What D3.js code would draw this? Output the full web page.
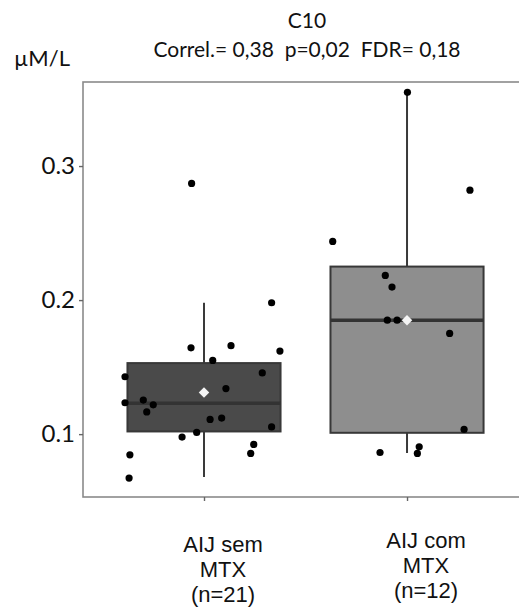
<!DOCTYPE html>
<html>
<head>
<meta charset="utf-8">
<script src="https://cdn.jsdelivr.net/npm/d3@7"></script>
<style>
  body { margin: 0; background: #fff; }
  svg { display: block; }
</style>
</head>
<body>
<svg id="chart"></svg>
<script>
(function(){

  // groups
  let groups = ['AIJ sem MTX', 'AIJ com MTX'];
  let groupLabels = [['AIJ sem', 'MTX', '(n=21)'], ['AIJ com', 'MTX', '(n=12)']];
  let groupFill = ['#4a4a4a', '#8e8e8e'];

  // box stats (q1, median, q3, whisker ends, mean)
  let q1 = [0.102, 0.101];
  let median = [0.123, 0.185];
  let q3 = [0.153, 0.225];
  let whiskerLo = [0.068, 0.086];
  let whiskerHi = [0.198, 0.355];
  let mean = [0.131, 0.185];

  // jittered points: group position (1 or 2 plus jitter) and value
  let ptsX1 = [1.333, 0.936, 1.133, 1.374, 1.043, 1.287, 0.611, 1.108, 0.611, 0.701, 0.750,
               0.718, 1.030, 1.087, 1.333, 0.964, 0.892, 1.245, 1.230, 0.635, 0.631, 0.939];
  let ptsY1 = [0.198, 0.1644, 0.166, 0.162, 0.155, 0.1457, 0.1428, 0.134, 0.1234, 0.1254, 0.1219,
               0.1166, 0.111, 0.112, 0.1054, 0.1013, 0.0978, 0.0923, 0.0856, 0.0846, 0.0672, 0.287];
  let ptsX2 = [2.002, 2.310, 1.634, 1.893, 1.926, 1.903, 1.951, 2.210, 2.281, 2.060, 1.867, 2.051];
  let ptsY2 = [0.355, 0.282, 0.2438, 0.2184, 0.2097, 0.185, 0.185, 0.1751, 0.1035, 0.0905, 0.0863, 0.0856];

  let yTicks = [0.1, 0.2, 0.3];

  let width = 519, height = 613;
  let left = 83, top = 82, bottom = 497, right = 540;

  let svg = d3.select('svg#chart')
      .attr('width', width)
      .attr('height', height);

  let x = d3.scaleLinear().domain([0.404, 2.655]).range([left, right]);
  let y = d3.scaleLinear().domain([0.0531, 0.3627]).range([bottom, top]);

  let calibri = 'Lato, "Open Sans", sans-serif';
  let arial = '"Liberation Sans", Arial, sans-serif';

  // titles
  svg.append('text')
      .attr('x', 307).attr('y', 28)
      .attr('text-anchor', 'middle')
      .attr('font-family', calibri).attr('font-size', 21)
      .attr('fill', '#111')
      .text('C10');
  svg.append('text')
      .attr('x', 307).attr('y', 57)
      .attr('text-anchor', 'middle')
      .attr('font-family', calibri).attr('font-size', 21)
      .attr('fill', '#111')
      .attr('xml:space', 'preserve')
      .style('white-space', 'pre')
      .text('Correl.= 0,38  p=0,02  FDR= 0,18');
  svg.append('text')
      .attr('x', 14).attr('y', 66)
      .attr('font-family', calibri).attr('font-size', 22)
      .attr('fill', '#111')
      .text('\u00b5M/L');

  // panel border
  svg.append('rect')
      .attr('x', left).attr('y', top)
      .attr('width', right - left).attr('height', bottom - top)
      .attr('fill', 'none')
      .attr('stroke', '#8a8a8a')
      .attr('stroke-width', 1.6);

  // y axis
  let yAxis = svg.append('g')
      .attr('transform', `translate(${left},0)`)
      .call(d3.axisLeft(y).tickValues(yTicks).tickSize(4).tickPadding(4).tickFormat(d3.format('.1f')));
  yAxis.select('.domain').remove();
  yAxis.selectAll('line').attr('stroke', '#666').attr('stroke-width', 1.4);
  yAxis.selectAll('text')
      .attr('font-family', calibri).attr('font-size', 24).attr('fill', '#111');

  // x axis ticks
  let xAxis = svg.append('g')
      .attr('transform', `translate(0,${bottom})`)
      .call(d3.axisBottom(x).tickValues([1, 2]).tickSize(4).tickFormat(''));
  xAxis.select('.domain').remove();
  xAxis.selectAll('line').attr('stroke', '#666').attr('stroke-width', 1.4);

  // x labels (offset to the right of ticks, as in the picture)
  groupLabels.forEach((lines, i) => {
    let t = svg.append('text')
        .attr('text-anchor', 'middle')
        .attr('font-family', arial).attr('font-size', 22)
        .attr('fill', '#111');
    lines.forEach((s, j) => {
      t.append('tspan')
          .attr('x', x(i + 1) + 19)
          .attr('y', (i === 0 ? 552 : 548) + j * 25)
          .text(s);
    });
  });

  let g = svg.append('g');
  let halfW = 0.377;

  groups.forEach((grp, i) => {
    let cx = i + 1;
    // whiskers
    g.append('line')
        .attr('x1', x(cx)).attr('x2', x(cx))
        .attr('y1', y(whiskerLo[i])).attr('y2', y(whiskerHi[i]))
        .attr('stroke', '#3a3a3a').attr('stroke-width', 2);
    // box
    g.append('rect')
        .attr('x', x(cx - halfW)).attr('width', x(cx + halfW) - x(cx - halfW))
        .attr('y', y(q3[i])).attr('height', y(q1[i]) - y(q3[i]))
        .attr('fill', groupFill[i])
        .attr('stroke', '#383838').attr('stroke-width', 2);
    // median
    g.append('line')
        .attr('x1', x(cx - halfW)).attr('x2', x(cx + halfW))
        .attr('y1', y(median[i])).attr('y2', y(median[i]))
        .attr('stroke', '#333').attr('stroke-width', 3.5);
  });

  // points
  let pts = ptsX1.map((v, i) => ({x: v, y: ptsY1[i]}))
      .concat(ptsX2.map((v, i) => ({x: v, y: ptsY2[i]})));
  g.selectAll('circle.pt')
    .data(pts)
    .enter().append('circle')
      .attr('class', 'pt')
      .attr('cx', d => x(d.x))
      .attr('cy', d => y(d.y))
      .attr('r', 3.6)
      .attr('fill', '#000');

  // means
  g.selectAll('path.mean')
    .data(mean)
    .enter().append('path')
      .attr('class', 'mean')
      .attr('transform', (d, i) => `translate(${x(i + 1)},${y(d)})`)
      .attr('d', d3.symbol().type(d3.symbolDiamond2).size(70))
      .attr('fill', '#f4f4f4');

})();
</script>
</body>
</html>
